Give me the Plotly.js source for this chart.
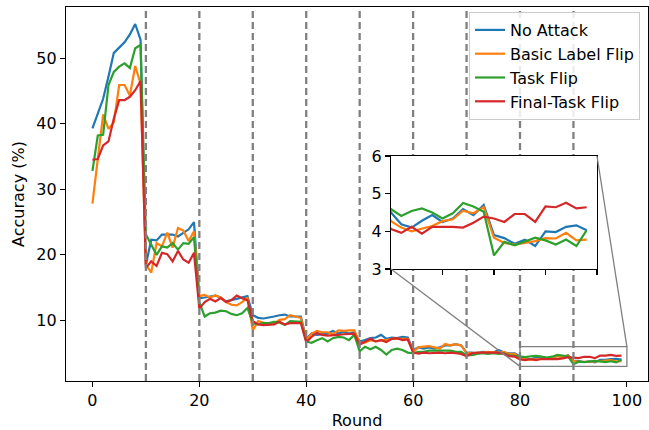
<!DOCTYPE html>
<html>
<head>
<meta charset="utf-8">
<script src="https://cdn.plot.ly/plotly-3.0.1.min.js"></script>
<style>html,body{margin:0;padding:0;background:#fff;}#chart{width:649px;height:430px;}</style>
</head>
<body>
<div id="chart"></div>
<script>
// ---- data ----
const rounds = Array.from({length: 100}, (_, i) => i);
const seriesNames = ["No Attack", "Basic Label Flip", "Task Flip", "Final-Task Flip"];
const noAttack = [
  39.3, 41.5, 43.8, 47.2, 50.8, 51.6, 52.4, 53.6, 55.2, 52.8,
  18.5, 22.3, 22.2, 23.1, 23.1, 23.1, 22.8, 23.4, 23.9, 25.0,
  13.4, 13.5, 13.7, 13.8, 13.5, 12.9, 13.1, 13.3, 13.4, 13.7,
  10.8, 10.4, 10.3, 10.4, 10.6, 10.8, 10.9, 10.6, 10.6, 10.6,
  7.2, 8.0, 7.8, 7.9, 8.0, 8.4, 8.0, 8.3, 8.0, 8.2,
  6.8, 7.0, 7.3, 7.4, 7.8, 7.2, 7.4, 7.3, 7.5, 7.4,
  5.5, 5.9, 5.7, 5.9, 5.7, 5.9, 6.2, 6.2, 6.4, 6.2,
  5.1, 5.1, 5.0, 5.2, 5.2, 5.1, 5.5, 5.1, 5.0, 5.0,
  4.50, 4.19, 4.10, 4.28, 4.43, 4.25, 4.34, 4.59, 4.43, 4.70,
  3.90, 3.82, 3.67, 3.78, 3.61, 4.00, 3.98, 4.12, 4.16, 4.03
];
const basicLabelFlip = [
  27.8, 35.0, 41.4, 39.2, 40.2, 45.9, 45.9, 44.3, 48.8, 46.1,
  18.5, 17.3, 21.8, 21.3, 23.4, 21.1, 24.1, 23.7, 22.1, 23.6,
  13.7, 13.9, 13.5, 13.8, 13.5, 12.8, 12.4, 12.3, 12.8, 13.5,
  8.5, 9.9, 9.6, 9.4, 9.6, 10.1, 10.2, 10.8, 10.6, 10.4,
  7.0, 8.0, 8.4, 8.2, 8.2, 7.9, 8.5, 8.4, 8.5, 8.5,
  6.6, 6.6, 7.0, 6.8, 7.0, 7.0, 7.2, 7.2, 7.3, 7.2,
  5.2, 5.9, 6.0, 6.1, 5.9, 5.7, 6.4, 6.2, 6.4, 6.2,
  5.0, 5.0, 5.1, 5.1, 5.2, 5.1, 5.1, 5.2, 4.9, 4.9,
  4.27, 4.10, 4.00, 4.08, 4.14, 4.27, 4.32, 4.55, 4.48, 4.64,
  3.83, 3.69, 3.65, 3.69, 3.74, 3.82, 3.81, 3.96, 3.76, 3.78
];
const taskFlip = [
  32.8, 38.2, 38.3, 45.9, 47.9, 48.7, 49.2, 48.5, 51.5, 52.0,
  23.1, 21.6, 20.0, 21.3, 21.1, 21.8, 20.8, 21.8, 21.7, 22.7,
  12.8, 10.6, 11.1, 11.2, 11.5, 11.4, 11.0, 10.8, 11.1, 11.9,
  9.6, 9.4, 9.6, 9.6, 9.8, 9.7, 9.3, 9.9, 9.8, 9.8,
  6.8, 6.6, 7.0, 7.3, 6.8, 7.3, 7.5, 7.4, 7.0, 7.8,
  5.3, 6.0, 5.6, 6.0, 5.5, 4.8, 5.5, 5.7, 5.5, 5.1,
  5.0, 5.2, 5.2, 5.4, 5.4, 5.4, 5.4, 5.4, 5.2, 5.2,
  4.7, 4.7, 4.9, 5.0, 4.9, 5.0, 4.9, 5.0, 4.7, 4.6,
  4.59, 4.41, 4.54, 4.61, 4.50, 4.34, 4.48, 4.75, 4.66, 4.52,
  3.36, 3.72, 3.63, 3.74, 3.83, 3.76, 3.65, 3.78, 3.61, 4.03
];
const finalTaskFlip = [
  34.5, 34.6, 36.7, 37.3, 40.8, 43.6, 43.6, 44.1, 45.1, 46.5,
  18.0, 19.0, 18.3, 20.3, 20.1, 19.0, 20.6, 19.3, 18.8, 20.3,
  11.8, 12.8, 13.3, 12.9, 13.4, 12.8, 13.1, 13.8, 13.4, 13.1,
  9.9, 9.4, 9.3, 9.3, 9.4, 9.8, 9.4, 9.6, 9.6, 9.6,
  6.7, 7.5, 8.1, 7.8, 7.7, 7.7, 7.8, 7.9, 8.0, 8.0,
  6.3, 6.7, 7.2, 6.8, 7.0, 6.7, 7.2, 7.3, 7.0, 7.1,
  5.1, 4.95, 5.1, 5.0, 5.1, 5.1, 5.0, 5.1, 5.0, 4.9,
  4.55, 5.0, 5.1, 5.1, 5.2, 5.2, 5.1, 4.9, 4.55, 4.5,
  4.06, 3.96, 4.12, 3.94, 4.12, 4.12, 4.12, 4.10, 4.23, 4.39,
  4.34, 4.25, 4.46, 4.46, 4.25, 4.66, 4.64, 4.76, 4.61, 4.64
];
const phaseBoundaries = [10, 20, 30, 40, 50, 60, 70, 80, 90];
const xTicks = [0, 20, 40, 60, 80, 100];
const yTicks = [10, 20, 30, 40, 50];
const insetXTicks = [80, 85, 90, 95, 100];
const insetYTicks = [3, 4, 5, 6];

// ---- styling / layout ----
const colors = ["#1f77b4", "#ff7f0e", "#2ca02c", "#d62728"];
const allSeries = [noAttack, basicLabelFlip, taskFlip, finalTaskFlip];
const xRange = [-4.95, 103.95];
const yRange = [0.77, 57.79];
const insetX = [80, 100];
const insetY = [3, 6];
const FONT = "DejaVu Sans, sans-serif";
const FS = 16;

const traces = [];
allSeries.forEach((s, i) => {
  traces.push({
    x: rounds, y: s, type: "scatter", mode: "lines", name: seriesNames[i],
    legendgroup: "g" + i,
    line: {color: colors[i], width: 2.2}, xaxis: "x", yaxis: "y"
  });
});
// phase boundary lines (main axes)
const bx = [], by = [];
phaseBoundaries.forEach(b => { bx.push(b, b, null); by.push(yRange[0], yRange[1], null); });
traces.push({x: bx, y: by, type: "scatter", mode: "lines", showlegend: false, hoverinfo: "skip",
  line: {color: "#808080", width: 2.3, dash: "7px,4px"}, xaxis: "x", yaxis: "y"});
// inset traces
allSeries.forEach((s, i) => {
  traces.push({
    x: rounds, y: s, type: "scatter", mode: "lines", showlegend: false,
    line: {color: colors[i], width: 2.2}, xaxis: "x2", yaxis: "y2"
  });
});

const L = 66, R = 1, T = 7, B = 49;
const W = 649, H = 430;
const pw = W - L - R, ph = H - T - B;
const insetDomX = [(391 - L) / pw, (597 - L) / pw];
const insetDomY = [(H - B - 269) / ph, (H - B - 156) / ph];
const toPX = v => (v - xRange[0]) / (xRange[1] - xRange[0]);
const toPY = v => (v - yRange[0]) / (yRange[1] - yRange[0]);

const layout = {
  width: W, height: H,
  margin: {l: L, r: R, t: T, b: B},
  paper_bgcolor: "#fff", plot_bgcolor: "#fff",
  font: {family: FONT, size: FS, color: "#000"},
  showlegend: true,
  legend: {
    x: (640 - L) / pw, xanchor: "right", y: (H - B - 12) / ph, yanchor: "top",
    bgcolor: "rgba(255,255,255,0.85)", bordercolor: "#cccccc", borderwidth: 1,
    font: {family: FONT, size: FS}, tracegroupgap: 0
  },
  xaxis: {
    domain: [0, 1], range: xRange, anchor: "y",
    tickmode: "array", tickvals: xTicks, ticks: "outside", ticklen: 5, tickwidth: 1.2, tickcolor: "#000",
    showline: true, linecolor: "#000", linewidth: 1.2, mirror: true, showgrid: false, zeroline: false,
    title: {text: "Round", font: {family: FONT, size: FS}, standoff: 6},
    tickfont: {family: FONT, size: FS}
  },
  yaxis: {
    domain: [0, 1], range: yRange, anchor: "x",
    tickmode: "array", tickvals: yTicks, ticks: "outside", ticklen: 5, tickwidth: 1.2, tickcolor: "#000",
    showline: true, linecolor: "#000", linewidth: 1.2, mirror: true, showgrid: false, zeroline: false,
    title: {text: "Accuracy (%)", font: {family: FONT, size: FS}, standoff: 7},
    tickfont: {family: FONT, size: FS}
  },
  xaxis2: {
    domain: insetDomX, range: insetX, anchor: "y2",
    tickmode: "array", tickvals: insetXTicks, ticks: "outside", ticklen: 5, tickwidth: 1.2, tickcolor: "#000",
    showticklabels: false,
    showline: true, linecolor: "#000", linewidth: 1.2, mirror: true, showgrid: false, zeroline: false
  },
  yaxis2: {
    domain: insetDomY, range: insetY, anchor: "x2",
    tickmode: "array", tickvals: insetYTicks, ticks: "outside", ticklen: 5, tickwidth: 1.2, tickcolor: "#000",
    showline: true, linecolor: "#000", linewidth: 1.2, mirror: true, showgrid: false, zeroline: false,
    tickfont: {family: FONT, size: FS}
  },
  shapes: [
    {type: "rect", xref: "x", yref: "y", x0: insetX[0], x1: insetX[1], y0: insetY[0], y1: insetY[1],
      line: {color: "#808080", width: 1.3}, fillcolor: "rgba(0,0,0,0)", layer: "above"},
    {type: "line", xref: "paper", yref: "paper", x0: toPX(insetX[0]), y0: toPY(insetY[0]),
      x1: insetDomX[0], y1: insetDomY[0], line: {color: "#808080", width: 1.3}, layer: "above"},
    {type: "line", xref: "paper", yref: "paper", x0: toPX(insetX[1]), y0: toPY(insetY[1]),
      x1: insetDomX[1], y1: insetDomY[1], line: {color: "#808080", width: 1.3}, layer: "above"}
  ]
};

Plotly.newPlot("chart", traces, layout, {displayModeBar: false, staticPlot: true});
</script>
</body>
</html>
